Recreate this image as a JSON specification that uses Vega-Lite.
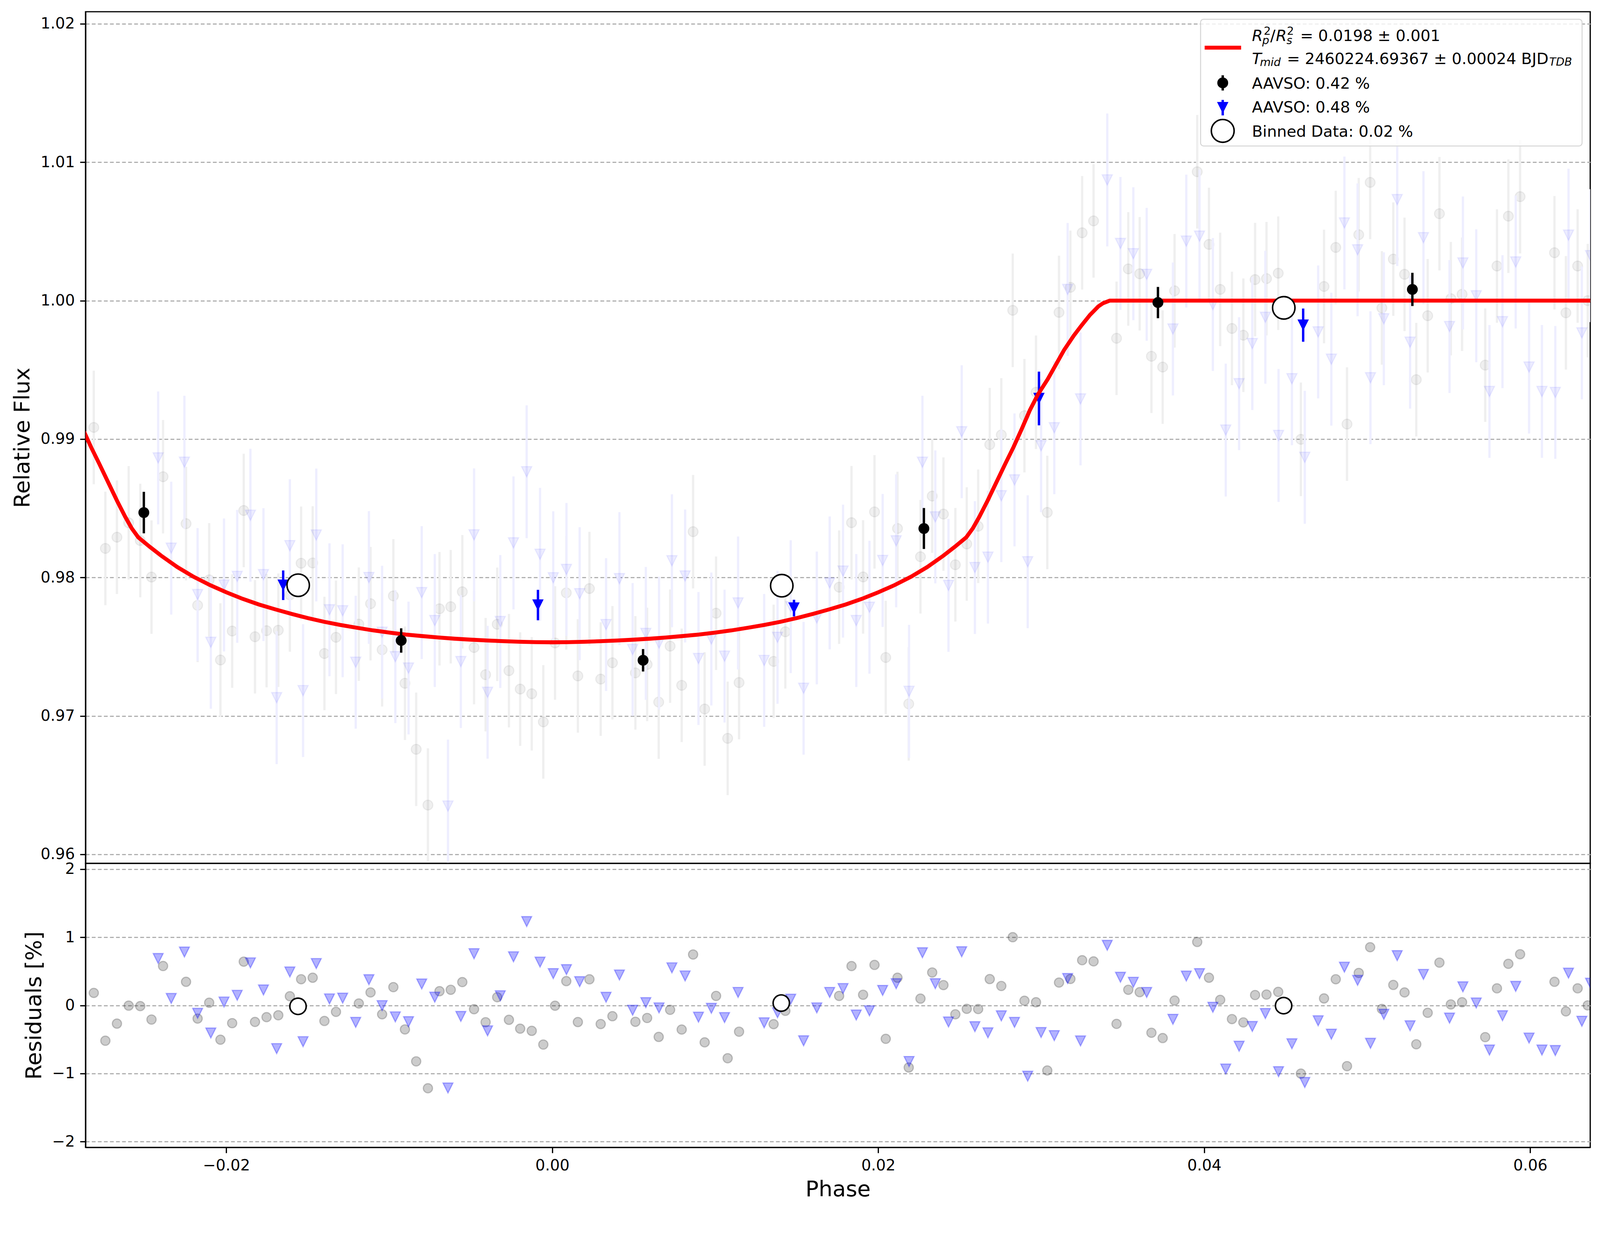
{
  "$schema": "https://vega.github.io/schema/vega-lite/v6.json",
  "background": "white",
  "padding": {"left": 28, "top": 28, "right": 28, "bottom": 20},
  "spacing": 0,
  "bounds": "flush",
  "datasets": {
    "circ": [
      {"phase": -0.0289, "flux": 0.98622, "res": -0.48, "err": 0.0041},
      {"phase": -0.02813, "flux": 0.99084, "res": 0.183, "err": 0.0041},
      {"phase": -0.02742, "flux": 0.98210, "res": -0.519, "err": 0.0041},
      {"phase": -0.02671, "flux": 0.98291, "res": -0.268, "err": 0.0041},
      {"phase": -0.02599, "flux": 0.98395, "res": -0.004, "err": 0.0041},
      {"phase": -0.02528, "flux": 0.98267, "res": -0.011, "err": 0.0041},
      {"phase": -0.02459, "flux": 0.98003, "res": -0.208, "err": 0.0041},
      {"phase": -0.02388, "flux": 0.98728, "res": 0.578, "err": 0.0041},
      {"phase": -0.02247, "flux": 0.98389, "res": 0.346, "err": 0.0041},
      {"phase": -0.02176, "flux": 0.97799, "res": -0.194, "err": 0.0041},
      {"phase": -0.02105, "flux": 0.97983, "res": 0.039, "err": 0.0041},
      {"phase": -0.02036, "flux": 0.97404, "res": -0.504, "err": 0.0041},
      {"phase": -0.01964, "flux": 0.97613, "res": -0.261, "err": 0.0041},
      {"phase": -0.01893, "flux": 0.98484, "res": 0.642, "err": 0.0041},
      {"phase": -0.01824, "flux": 0.97572, "res": -0.243, "err": 0.0041},
      {"phase": -0.01753, "flux": 0.97616, "res": -0.173, "err": 0.0041},
      {"phase": -0.01681, "flux": 0.97619, "res": -0.145, "err": 0.0041},
      {"phase": -0.01610, "flux": 0.97874, "res": 0.134, "err": 0.0041},
      {"phase": -0.01541, "flux": 0.98103, "res": 0.384, "err": 0.0041},
      {"phase": -0.01470, "flux": 0.98105, "res": 0.406, "err": 0.0041},
      {"phase": -0.01398, "flux": 0.97451, "res": -0.229, "err": 0.0041},
      {"phase": -0.01327, "flux": 0.97568, "res": -0.095, "err": 0.0041},
      {"phase": -0.01187, "flux": 0.97663, "res": 0.028, "err": 0.0041},
      {"phase": -0.01115, "flux": 0.97811, "res": 0.190, "err": 0.0041},
      {"phase": -0.01044, "flux": 0.97478, "res": -0.131, "err": 0.0041},
      {"phase": -0.00975, "flux": 0.97867, "res": 0.268, "err": 0.0041},
      {"phase": -0.00904, "flux": 0.97236, "res": -0.353, "err": 0.0041},
      {"phase": -0.00835, "flux": 0.96759, "res": -0.822, "err": 0.0041},
      {"phase": -0.00763, "flux": 0.96356, "res": -1.217, "err": 0.0041},
      {"phase": -0.00692, "flux": 0.97774, "res": 0.208, "err": 0.0041},
      {"phase": -0.00623, "flux": 0.97789, "res": 0.229, "err": 0.0041},
      {"phase": -0.00552, "flux": 0.97897, "res": 0.342, "err": 0.0041},
      {"phase": -0.00480, "flux": 0.97494, "res": -0.056, "err": 0.0041},
      {"phase": -0.00409, "flux": 0.97298, "res": -0.247, "err": 0.0041},
      {"phase": -0.00338, "flux": 0.97662, "res": 0.120, "err": 0.0041},
      {"phase": -0.00266, "flux": 0.97327, "res": -0.212, "err": 0.0041},
      {"phase": -0.00197, "flux": 0.97194, "res": -0.342, "err": 0.0041},
      {"phase": -0.00126, "flux": 0.97160, "res": -0.374, "err": 0.0041},
      {"phase": -0.00055, "flux": 0.96957, "res": -0.575, "err": 0.0041},
      {"phase": 0.00017, "flux": 0.97527, "res": -0.005, "err": 0.0041},
      {"phase": 0.00086, "flux": 0.97889, "res": 0.356, "err": 0.0041},
      {"phase": 0.00157, "flux": 0.97289, "res": -0.245, "err": 0.0041},
      {"phase": 0.00228, "flux": 0.97920, "res": 0.383, "err": 0.0041},
      {"phase": 0.00297, "flux": 0.97266, "res": -0.274, "err": 0.0041},
      {"phase": 0.00369, "flux": 0.97384, "res": -0.159, "err": 0.0041},
      {"phase": 0.00510, "flux": 0.97311, "res": -0.241, "err": 0.0041},
      {"phase": 0.00582, "flux": 0.97372, "res": -0.185, "err": 0.0041},
      {"phase": 0.00653, "flux": 0.97100, "res": -0.463, "err": 0.0041},
      {"phase": 0.00723, "flux": 0.97504, "res": -0.065, "err": 0.0041},
      {"phase": 0.00794, "flux": 0.97221, "res": -0.355, "err": 0.0041},
      {"phase": 0.00864, "flux": 0.98331, "res": 0.747, "err": 0.0041},
      {"phase": 0.00935, "flux": 0.97050, "res": -0.543, "err": 0.0041},
      {"phase": 0.01005, "flux": 0.97742, "res": 0.139, "err": 0.0041},
      {"phase": 0.01076, "flux": 0.96838, "res": -0.776, "err": 0.0041},
      {"phase": 0.01146, "flux": 0.97241, "res": -0.386, "err": 0.0041},
      {"phase": 0.01358, "flux": 0.97394, "res": -0.276, "err": 0.0041},
      {"phase": 0.01430, "flux": 0.97608, "res": -0.080, "err": 0.0041},
      {"phase": 0.01760, "flux": 0.97930, "res": 0.139, "err": 0.0041},
      {"phase": 0.01836, "flux": 0.98396, "res": 0.577, "err": 0.0041},
      {"phase": 0.01907, "flux": 0.98004, "res": 0.156, "err": 0.0041},
      {"phase": 0.01977, "flux": 0.98474, "res": 0.594, "err": 0.0041},
      {"phase": 0.02046, "flux": 0.97422, "res": -0.491, "err": 0.0041},
      {"phase": 0.02118, "flux": 0.98354, "res": 0.406, "err": 0.0041},
      {"phase": 0.02187, "flux": 0.97087, "res": -0.912, "err": 0.0041},
      {"phase": 0.02259, "flux": 0.98150, "res": 0.099, "err": 0.0041},
      {"phase": 0.02331, "flux": 0.98588, "res": 0.483, "err": 0.0041},
      {"phase": 0.02400, "flux": 0.98458, "res": 0.298, "err": 0.0041},
      {"phase": 0.02473, "flux": 0.98092, "res": -0.131, "err": 0.0041},
      {"phase": 0.02543, "flux": 0.98242, "res": -0.051, "err": 0.0041},
      {"phase": 0.02613, "flux": 0.98370, "res": -0.054, "err": 0.0041},
      {"phase": 0.02684, "flux": 0.98960, "res": 0.386, "err": 0.0041},
      {"phase": 0.02755, "flux": 0.99030, "res": 0.285, "err": 0.0041},
      {"phase": 0.02825, "flux": 0.99930, "res": 1.001, "err": 0.0041},
      {"phase": 0.02897, "flux": 0.99169, "res": 0.068, "err": 0.0041},
      {"phase": 0.02968, "flux": 0.99338, "res": 0.046, "err": 0.0041},
      {"phase": 0.03037, "flux": 0.98470, "res": -0.956, "err": 0.0041},
      {"phase": 0.03109, "flux": 0.99915, "res": 0.335, "err": 0.0041},
      {"phase": 0.03179, "flux": 1.00096, "res": 0.388, "err": 0.0041},
      {"phase": 0.03251, "flux": 1.00490, "res": 0.663, "err": 0.0041},
      {"phase": 0.03321, "flux": 1.00576, "res": 0.646, "err": 0.0041},
      {"phase": 0.03462, "flux": 0.99728, "res": -0.272, "err": 0.0041},
      {"phase": 0.03534, "flux": 1.00229, "res": 0.229, "err": 0.0041},
      {"phase": 0.03604, "flux": 1.00194, "res": 0.194, "err": 0.0041},
      {"phase": 0.03676, "flux": 0.99598, "res": -0.402, "err": 0.0041},
      {"phase": 0.03745, "flux": 0.99520, "res": -0.480, "err": 0.0041},
      {"phase": 0.03818, "flux": 1.00071, "res": 0.071, "err": 0.0041},
      {"phase": 0.03957, "flux": 1.00931, "res": 0.931, "err": 0.0041},
      {"phase": 0.04029, "flux": 1.00406, "res": 0.406, "err": 0.0041},
      {"phase": 0.04098, "flux": 1.00081, "res": 0.081, "err": 0.0041},
      {"phase": 0.04170, "flux": 0.99799, "res": -0.201, "err": 0.0041},
      {"phase": 0.04240, "flux": 0.99750, "res": -0.250, "err": 0.0041},
      {"phase": 0.04312, "flux": 1.00152, "res": 0.152, "err": 0.0041},
      {"phase": 0.04382, "flux": 1.00159, "res": 0.159, "err": 0.0041},
      {"phase": 0.04454, "flux": 1.00198, "res": 0.198, "err": 0.0041},
      {"phase": 0.04593, "flux": 0.98998, "res": -1.002, "err": 0.0041},
      {"phase": 0.04735, "flux": 1.00102, "res": 0.102, "err": 0.0041},
      {"phase": 0.04807, "flux": 1.00384, "res": 0.384, "err": 0.0041},
      {"phase": 0.04876, "flux": 0.99108, "res": -0.892, "err": 0.0041},
      {"phase": 0.04948, "flux": 1.00476, "res": 0.476, "err": 0.0041},
      {"phase": 0.05018, "flux": 1.00854, "res": 0.854, "err": 0.0041},
      {"phase": 0.05090, "flux": 0.99947, "res": -0.053, "err": 0.0041},
      {"phase": 0.05160, "flux": 1.00300, "res": 0.300, "err": 0.0041},
      {"phase": 0.05229, "flux": 1.00190, "res": 0.190, "err": 0.0041},
      {"phase": 0.05301, "flux": 0.99429, "res": -0.571, "err": 0.0041},
      {"phase": 0.05371, "flux": 0.99891, "res": -0.109, "err": 0.0041},
      {"phase": 0.05443, "flux": 1.00628, "res": 0.628, "err": 0.0041},
      {"phase": 0.05513, "flux": 1.00014, "res": 0.014, "err": 0.0041},
      {"phase": 0.05582, "flux": 1.00046, "res": 0.046, "err": 0.0041},
      {"phase": 0.05724, "flux": 0.99534, "res": -0.466, "err": 0.0041},
      {"phase": 0.05796, "flux": 1.00250, "res": 0.250, "err": 0.0041},
      {"phase": 0.05866, "flux": 1.00610, "res": 0.610, "err": 0.0041},
      {"phase": 0.05938, "flux": 1.00751, "res": 0.751, "err": 0.0041},
      {"phase": 0.06149, "flux": 1.00346, "res": 0.346, "err": 0.0041},
      {"phase": 0.06219, "flux": 0.99912, "res": -0.088, "err": 0.0041},
      {"phase": 0.06291, "flux": 1.00250, "res": 0.250, "err": 0.0041},
      {"phase": 0.06353, "flux": 1.00000, "res": 0.000, "err": 0.0041}
    ],
    "tri": [
      {"phase": -0.02418, "flux": 0.98864, "res": 0.688, "err": 0.0048},
      {"phase": -0.02338, "flux": 0.98212, "res": 0.102, "err": 0.0048},
      {"phase": -0.02257, "flux": 0.98833, "res": 0.783, "err": 0.0048},
      {"phase": -0.02176, "flux": 0.97877, "res": -0.116, "err": 0.0048},
      {"phase": -0.02095, "flux": 0.97532, "res": -0.406, "err": 0.0048},
      {"phase": -0.02014, "flux": 0.97946, "res": 0.049, "err": 0.0048},
      {"phase": -0.01933, "flux": 0.98008, "res": 0.148, "err": 0.0048},
      {"phase": -0.01852, "flux": 0.98450, "res": 0.624, "err": 0.0048},
      {"phase": -0.01772, "flux": 0.98021, "res": 0.226, "err": 0.0048},
      {"phase": -0.01691, "flux": 0.97132, "res": -0.635, "err": 0.0048},
      {"phase": -0.01610, "flux": 0.98230, "res": 0.490, "err": 0.0048},
      {"phase": -0.01529, "flux": 0.97183, "res": -0.533, "err": 0.0048},
      {"phase": -0.01448, "flux": 0.98307, "res": 0.614, "err": 0.0048},
      {"phase": -0.01367, "flux": 0.97767, "res": 0.095, "err": 0.0048},
      {"phase": -0.01286, "flux": 0.97760, "res": 0.106, "err": 0.0048},
      {"phase": -0.01206, "flux": 0.97388, "res": -0.250, "err": 0.0048},
      {"phase": -0.01125, "flux": 0.98000, "res": 0.377, "err": 0.0048},
      {"phase": -0.01044, "flux": 0.97605, "res": -0.004, "err": 0.0048},
      {"phase": -0.00963, "flux": 0.97428, "res": -0.169, "err": 0.0048},
      {"phase": -0.00882, "flux": 0.97346, "res": -0.240, "err": 0.0048},
      {"phase": -0.00801, "flux": 0.97891, "res": 0.314, "err": 0.0048},
      {"phase": -0.00721, "flux": 0.97689, "res": 0.120, "err": 0.0048},
      {"phase": -0.00640, "flux": 0.96349, "res": -1.213, "err": 0.0048},
      {"phase": -0.00561, "flux": 0.97393, "res": -0.162, "err": 0.0048},
      {"phase": -0.00480, "flux": 0.98308, "res": 0.758, "err": 0.0048},
      {"phase": -0.00397, "flux": 0.97171, "res": -0.374, "err": 0.0048},
      {"phase": -0.00319, "flux": 0.97682, "res": 0.141, "err": 0.0048},
      {"phase": -0.00238, "flux": 0.98250, "res": 0.713, "err": 0.0048},
      {"phase": -0.00157, "flux": 0.98764, "res": 1.230, "err": 0.0048},
      {"phase": -0.00075, "flux": 0.98168, "res": 0.635, "err": 0.0048},
      {"phase": 0.00006, "flux": 0.97998, "res": 0.466, "err": 0.0048},
      {"phase": 0.00087, "flux": 0.98058, "res": 0.525, "err": 0.0048},
      {"phase": 0.00168, "flux": 0.97883, "res": 0.348, "err": 0.0048},
      {"phase": 0.00330, "flux": 0.97660, "res": 0.119, "err": 0.0048},
      {"phase": 0.00412, "flux": 0.97992, "res": 0.446, "err": 0.0048},
      {"phase": 0.00493, "flux": 0.97480, "res": -0.071, "err": 0.0048},
      {"phase": 0.00574, "flux": 0.97596, "res": 0.040, "err": 0.0048},
      {"phase": 0.00655, "flux": 0.97526, "res": -0.037, "err": 0.0048},
      {"phase": 0.00734, "flux": 0.98121, "res": 0.551, "err": 0.0048},
      {"phase": 0.00815, "flux": 0.98011, "res": 0.432, "err": 0.0048},
      {"phase": 0.00897, "flux": 0.97415, "res": -0.173, "err": 0.0048},
      {"phase": 0.00976, "flux": 0.97556, "res": -0.043, "err": 0.0048},
      {"phase": 0.01057, "flux": 0.97432, "res": -0.179, "err": 0.0048},
      {"phase": 0.01140, "flux": 0.97816, "res": 0.190, "err": 0.0048},
      {"phase": 0.01300, "flux": 0.97401, "res": -0.256, "err": 0.0048},
      {"phase": 0.01382, "flux": 0.97568, "res": -0.108, "err": 0.0048},
      {"phase": 0.01463, "flux": 0.97789, "res": 0.091, "err": 0.0048},
      {"phase": 0.01542, "flux": 0.97200, "res": -0.520, "err": 0.0048},
      {"phase": 0.01623, "flux": 0.97708, "res": -0.037, "err": 0.0048},
      {"phase": 0.01702, "flux": 0.97961, "res": 0.190, "err": 0.0048},
      {"phase": 0.01784, "flux": 0.98046, "res": 0.247, "err": 0.0048},
      {"phase": 0.01865, "flux": 0.97689, "res": -0.142, "err": 0.0048},
      {"phase": 0.01946, "flux": 0.97785, "res": -0.080, "err": 0.0048},
      {"phase": 0.02027, "flux": 0.98123, "res": 0.219, "err": 0.0048},
      {"phase": 0.02110, "flux": 0.98265, "res": 0.318, "err": 0.0048},
      {"phase": 0.02189, "flux": 0.97178, "res": -0.824, "err": 0.0048},
      {"phase": 0.02271, "flux": 0.98833, "res": 0.773, "err": 0.0048},
      {"phase": 0.02350, "flux": 0.98438, "res": 0.318, "err": 0.0048},
      {"phase": 0.02431, "flux": 0.97943, "res": -0.244, "err": 0.0048},
      {"phase": 0.02512, "flux": 0.99053, "res": 0.787, "err": 0.0048},
      {"phase": 0.02593, "flux": 0.98072, "res": -0.313, "err": 0.0048},
      {"phase": 0.02673, "flux": 0.98147, "res": -0.403, "err": 0.0048},
      {"phase": 0.02755, "flux": 0.98591, "res": -0.154, "err": 0.0048},
      {"phase": 0.02836, "flux": 0.98705, "res": -0.250, "err": 0.0048},
      {"phase": 0.02917, "flux": 0.98114, "res": -1.040, "err": 0.0048},
      {"phase": 0.02999, "flux": 0.98952, "res": -0.399, "err": 0.0048},
      {"phase": 0.03080, "flux": 0.99082, "res": -0.444, "err": 0.0048},
      {"phase": 0.03162, "flux": 1.00081, "res": 0.395, "err": 0.0048},
      {"phase": 0.03241, "flux": 0.99290, "res": -0.522, "err": 0.0048},
      {"phase": 0.03405, "flux": 1.00872, "res": 0.882, "err": 0.0048},
      {"phase": 0.03486, "flux": 1.00413, "res": 0.413, "err": 0.0048},
      {"phase": 0.03565, "flux": 1.00339, "res": 0.339, "err": 0.0048},
      {"phase": 0.03647, "flux": 1.00190, "res": 0.190, "err": 0.0048},
      {"phase": 0.03808, "flux": 0.99795, "res": -0.205, "err": 0.0048},
      {"phase": 0.03890, "flux": 1.00430, "res": 0.430, "err": 0.0048},
      {"phase": 0.03971, "flux": 1.00466, "res": 0.466, "err": 0.0048},
      {"phase": 0.04053, "flux": 0.99972, "res": -0.028, "err": 0.0048},
      {"phase": 0.04132, "flux": 0.99065, "res": -0.935, "err": 0.0048},
      {"phase": 0.04214, "flux": 0.99400, "res": -0.600, "err": 0.0048},
      {"phase": 0.04295, "flux": 0.99690, "res": -0.310, "err": 0.0048},
      {"phase": 0.04375, "flux": 0.99880, "res": -0.120, "err": 0.0048},
      {"phase": 0.04456, "flux": 0.99026, "res": -0.974, "err": 0.0048},
      {"phase": 0.04538, "flux": 0.99436, "res": -0.564, "err": 0.0048},
      {"phase": 0.04617, "flux": 0.98868, "res": -1.132, "err": 0.0048},
      {"phase": 0.04699, "flux": 0.99774, "res": -0.226, "err": 0.0048},
      {"phase": 0.04780, "flux": 0.99577, "res": -0.423, "err": 0.0048},
      {"phase": 0.04860, "flux": 1.00561, "res": 0.561, "err": 0.0048},
      {"phase": 0.04941, "flux": 1.00367, "res": 0.367, "err": 0.0048},
      {"phase": 0.05020, "flux": 0.99443, "res": -0.557, "err": 0.0048},
      {"phase": 0.05102, "flux": 0.99869, "res": -0.131, "err": 0.0048},
      {"phase": 0.05184, "flux": 1.00730, "res": 0.730, "err": 0.0048},
      {"phase": 0.05263, "flux": 0.99700, "res": -0.300, "err": 0.0048},
      {"phase": 0.05345, "flux": 1.00455, "res": 0.455, "err": 0.0048},
      {"phase": 0.05505, "flux": 0.99813, "res": -0.187, "err": 0.0048},
      {"phase": 0.05587, "flux": 1.00272, "res": 0.272, "err": 0.0048},
      {"phase": 0.05669, "flux": 1.00035, "res": 0.035, "err": 0.0048},
      {"phase": 0.05750, "flux": 0.99344, "res": -0.656, "err": 0.0048},
      {"phase": 0.05830, "flux": 0.99848, "res": -0.152, "err": 0.0048},
      {"phase": 0.05911, "flux": 1.00279, "res": 0.279, "err": 0.0048},
      {"phase": 0.05993, "flux": 0.99520, "res": -0.480, "err": 0.0048},
      {"phase": 0.06072, "flux": 0.99344, "res": -0.656, "err": 0.0048},
      {"phase": 0.06154, "flux": 0.99337, "res": -0.663, "err": 0.0048},
      {"phase": 0.06235, "flux": 1.00473, "res": 0.473, "err": 0.0048},
      {"phase": 0.06317, "flux": 0.99767, "res": -0.233, "err": 0.0048},
      {"phase": 0.06370, "flux": 1.00325, "res": 0.325, "err": 0.0048}
    ],
    "model": [
      {"phase": -0.0290, "flux": 0.99124},
      {"phase": -0.0288, "flux": 0.99072},
      {"phase": -0.0283, "flux": 0.98942},
      {"phase": -0.0278, "flux": 0.98823},
      {"phase": -0.0272, "flux": 0.98676},
      {"phase": -0.0267, "flux": 0.98553},
      {"phase": -0.0262, "flux": 0.98438},
      {"phase": -0.0258, "flux": 0.98355},
      {"phase": -0.0254, "flux": 0.98290},
      {"phase": -0.0247, "flux": 0.98222},
      {"phase": -0.0240, "flux": 0.98158},
      {"phase": -0.0230, "flux": 0.98075},
      {"phase": -0.0220, "flux": 0.98005},
      {"phase": -0.0210, "flux": 0.97945},
      {"phase": -0.0200, "flux": 0.97893},
      {"phase": -0.0190, "flux": 0.97846},
      {"phase": -0.0180, "flux": 0.97805},
      {"phase": -0.0170, "flux": 0.97770},
      {"phase": -0.0160, "flux": 0.97737},
      {"phase": -0.0150, "flux": 0.97707},
      {"phase": -0.0140, "flux": 0.97680},
      {"phase": -0.0130, "flux": 0.97657},
      {"phase": -0.0120, "flux": 0.97637},
      {"phase": -0.0110, "flux": 0.97618},
      {"phase": -0.0100, "flux": 0.97602},
      {"phase": -0.0090, "flux": 0.97588},
      {"phase": -0.0080, "flux": 0.97577},
      {"phase": -0.0070, "flux": 0.97567},
      {"phase": -0.0060, "flux": 0.97558},
      {"phase": -0.0050, "flux": 0.97551},
      {"phase": -0.0040, "flux": 0.97545},
      {"phase": -0.0030, "flux": 0.97540},
      {"phase": -0.0020, "flux": 0.97536},
      {"phase": -0.0010, "flux": 0.97533},
      {"phase": 0.0000, "flux": 0.97532},
      {"phase": 0.0010, "flux": 0.97533},
      {"phase": 0.0020, "flux": 0.97536},
      {"phase": 0.0030, "flux": 0.97540},
      {"phase": 0.0040, "flux": 0.97545},
      {"phase": 0.0050, "flux": 0.97551},
      {"phase": 0.0060, "flux": 0.97558},
      {"phase": 0.0070, "flux": 0.97567},
      {"phase": 0.0080, "flux": 0.97577},
      {"phase": 0.0090, "flux": 0.97588},
      {"phase": 0.0100, "flux": 0.97602},
      {"phase": 0.0110, "flux": 0.97618},
      {"phase": 0.0120, "flux": 0.97637},
      {"phase": 0.0130, "flux": 0.97657},
      {"phase": 0.0140, "flux": 0.97680},
      {"phase": 0.0150, "flux": 0.97707},
      {"phase": 0.0160, "flux": 0.97737},
      {"phase": 0.0170, "flux": 0.97770},
      {"phase": 0.0180, "flux": 0.97805},
      {"phase": 0.0190, "flux": 0.97846},
      {"phase": 0.0200, "flux": 0.97893},
      {"phase": 0.0210, "flux": 0.97945},
      {"phase": 0.0220, "flux": 0.98005},
      {"phase": 0.0230, "flux": 0.98075},
      {"phase": 0.0240, "flux": 0.98158},
      {"phase": 0.0247, "flux": 0.98222},
      {"phase": 0.0254, "flux": 0.98290},
      {"phase": 0.0258, "flux": 0.98355},
      {"phase": 0.0262, "flux": 0.98438},
      {"phase": 0.0267, "flux": 0.98553},
      {"phase": 0.0272, "flux": 0.98676},
      {"phase": 0.0278, "flux": 0.98823},
      {"phase": 0.0283, "flux": 0.98942},
      {"phase": 0.0288, "flux": 0.99072},
      {"phase": 0.0293, "flux": 0.99208},
      {"phase": 0.0298, "flux": 0.99323},
      {"phase": 0.0304, "flux": 0.99433},
      {"phase": 0.0309, "flux": 0.99538},
      {"phase": 0.0314, "flux": 0.99643},
      {"phase": 0.0320, "flux": 0.99748},
      {"phase": 0.0325, "flux": 0.99825},
      {"phase": 0.0330, "flux": 0.99898},
      {"phase": 0.0335, "flux": 0.99958},
      {"phase": 0.0338, "flux": 0.99982},
      {"phase": 0.0342, "flux": 1.00000},
      {"phase": 0.0640, "flux": 1.00000}
    ],
    "black": [
      {"phase": -0.02506, "flux": 0.98469, "err": 0.0015},
      {"phase": -0.00927, "flux": 0.97545, "err": 0.00088},
      {"phase": 0.00557, "flux": 0.97402, "err": 0.00081},
      {"phase": 0.02280, "flux": 0.98354, "err": 0.00148},
      {"phase": 0.03716, "flux": 0.99986, "err": 0.00113},
      {"phase": 0.05277, "flux": 1.00081, "err": 0.0012}
    ],
    "blue": [
      {"phase": -0.01651, "flux": 0.97944, "err": 0.00107},
      {"phase": -0.00088, "flux": 0.97801, "err": 0.0011},
      {"phase": 0.01483, "flux": 0.97779, "err": 0.0006},
      {"phase": 0.02986, "flux": 0.99293, "err": 0.00194},
      {"phase": 0.04607, "flux": 0.99823, "err": 0.0012}
    ],
    "binmain": [
      {"phase": -0.01559, "flux": 0.97944},
      {"phase": 0.01408, "flux": 0.97941},
      {"phase": 0.04488, "flux": 0.99948}
    ],
    "binres": [
      {"phase": -0.0156, "res": -0.014},
      {"phase": 0.01405, "res": 0.034},
      {"phase": 0.04487, "res": -0.004}
    ]
  },
  "vconcat": [
    {
      "width": 3852,
      "height": 2180,
      "encoding": {
        "x": {"field": "phase", "type": "quantitative", "scale": {"domain": [-0.028636, 0.063683], "nice": false, "zero": false}, "axis": null},
        "y": {"field": "flux", "type": "quantitative", "scale": {"domain": [0.95935, 1.02087], "nice": false, "zero": false}, "title": "Relative Flux",
              "axis": {"values": [0.96, 0.97, 0.98, 0.99, 1.0, 1.01, 1.02], "format": ".2f", "titlePadding": 16.5}}
      },
      "layer": [
        {"data": {"name": "circ"}, "mark": {"type": "errorbar", "color": "#efefef", "thickness": 5.8, "clip": true}, "encoding": {"yError": {"field": "err"}}},
        {"data": {"name": "circ"}, "mark": {"type": "point", "shape": "circle", "size": 640, "filled": true, "opacity": 1, "fill": "black", "fillOpacity": 0.06, "stroke": "black", "strokeOpacity": 0.06, "strokeWidth": 2.9, "clip": true}},
        {"data": {"name": "tri"}, "mark": {"type": "errorbar", "color": "#eeeeff", "thickness": 5.8, "clip": true}, "encoding": {"yError": {"field": "err"}}},
        {"data": {"name": "tri"}, "mark": {"type": "point", "shape": "M-1,-1L1,-1L0,1Z", "size": 690, "filled": true, "opacity": 1, "fill": "blue", "fillOpacity": 0.07, "stroke": "blue", "strokeOpacity": 0.07, "strokeWidth": 2.9, "clip": true}},
        {"data": {"name": "blue"}, "mark": {"type": "errorbar", "color": "blue", "thickness": 6.1, "clip": true}, "encoding": {"yError": {"field": "err"}}},
        {"data": {"name": "blue"}, "mark": {"type": "point", "shape": "M-1,-1L1,-1L0,1Z", "size": 852, "filled": true, "opacity": 1, "fill": "blue", "strokeWidth": 0, "clip": true}},
        {"data": {"name": "model"}, "mark": {"type": "line", "color": "red", "strokeWidth": 10.1, "clip": true}, "encoding": {}},
        {"data": {"name": "black"}, "mark": {"type": "errorbar", "color": "black", "thickness": 6.1, "clip": true}, "encoding": {"yError": {"field": "err"}}},
        {"data": {"name": "black"}, "mark": {"type": "point", "shape": "circle", "size": 774, "filled": true, "opacity": 1, "fill": "black", "strokeWidth": 0, "clip": true}},
        {"data": {"name": "binmain"}, "mark": {"type": "point", "shape": "circle", "size": 3294, "filled": true, "opacity": 1, "fill": "white", "stroke": "black", "strokeWidth": 3.9, "clip": true}},
        {"data": {"values": [{"phase": 0.039776, "phase2": 0.063182, "flux": 1.020327, "flux2": 1.01117}]},
         "mark": {"type": "rect", "fill": "white", "fillOpacity": 0.8, "stroke": "#d6d6d6", "strokeWidth": 2.6, "cornerRadius": 7.8},
         "encoding": {"x2": {"field": "phase2"}, "y2": {"field": "flux2"}}},
        {"data": {"values": [{"phase": 0.040026, "phase2": 0.042263, "flux": 1.018275}]},
         "mark": {"type": "rule", "color": "red", "strokeWidth": 10.1},
         "encoding": {"x2": {"field": "phase2"}}},
        {"data": {"values": [{"phase": 0.041135, "flux": 1.015729, "err": 0.00055}]}, "mark": {"type": "errorbar", "color": "black", "thickness": 6.1}, "encoding": {"yError": {"field": "err"}}},
        {"data": {"values": [{"phase": 0.041135, "flux": 1.015729}]}, "mark": {"type": "point", "shape": "circle", "size": 774, "filled": true, "opacity": 1, "fill": "black", "strokeWidth": 0}},
        {"data": {"values": [{"phase": 0.041135, "flux": 1.01394, "err": 0.00056}]}, "mark": {"type": "errorbar", "color": "blue", "thickness": 6.1}, "encoding": {"yError": {"field": "err"}}},
        {"data": {"values": [{"phase": 0.041135, "flux": 1.01394}]}, "mark": {"type": "point", "shape": "M-1,-1L1,-1L0,1Z", "size": 852, "filled": true, "opacity": 1, "fill": "blue", "strokeWidth": 0}},
        {"data": {"values": [{"phase": 0.041135, "flux": 1.01226}]}, "mark": {"type": "point", "shape": "circle", "size": 3407, "filled": true, "opacity": 1, "fill": "white", "stroke": "black", "strokeWidth": 3.9}},
        {"data": {"values": [{"phase": 0.042928, "flux": 1.01875, "t": "R"}]}, "mark": {"type": "text", "align": "left", "baseline": "alphabetic", "fontSize": 39.9, "fontStyle": "italic", "color": "black"}, "encoding": {"text": {"field": "t"}}},
        {"data": {"values": [{"phase": 0.042928, "flux": 1.01875, "t": "2"}]}, "mark": {"type": "text", "align": "left", "baseline": "alphabetic", "fontSize": 28.2, "dx": 30.2, "dy": -16.5, "color": "black"}, "encoding": {"text": {"field": "t"}}},
        {"data": {"values": [{"phase": 0.042928, "flux": 1.01875, "t": "p"}]}, "mark": {"type": "text", "align": "left", "baseline": "alphabetic", "fontSize": 28.2, "fontStyle": "italic", "dx": 26.3, "dy": 8.3, "color": "black"}, "encoding": {"text": {"field": "t"}}},
        {"data": {"values": [{"phase": 0.042928, "flux": 1.01875, "t": "/"}]}, "mark": {"type": "text", "align": "left", "baseline": "alphabetic", "fontSize": 39.9, "dx": 46.7, "color": "black"}, "encoding": {"text": {"field": "t"}}},
        {"data": {"values": [{"phase": 0.042928, "flux": 1.01875, "t": "R"}]}, "mark": {"type": "text", "align": "left", "baseline": "alphabetic", "fontSize": 39.9, "fontStyle": "italic", "dx": 61.3, "color": "black"}, "encoding": {"text": {"field": "t"}}},
        {"data": {"values": [{"phase": 0.042928, "flux": 1.01875, "t": "2"}]}, "mark": {"type": "text", "align": "left", "baseline": "alphabetic", "fontSize": 28.2, "dx": 89.5, "dy": -16.5, "color": "black"}, "encoding": {"text": {"field": "t"}}},
        {"data": {"values": [{"phase": 0.042928, "flux": 1.01875, "t": "s"}]}, "mark": {"type": "text", "align": "left", "baseline": "alphabetic", "fontSize": 28.2, "fontStyle": "italic", "dx": 88.5, "dy": 8.3, "color": "black"}, "encoding": {"text": {"field": "t"}}},
        {"data": {"values": [{"phase": 0.042928, "flux": 1.01875, "t": "= 0.0198 ± 0.001"}]}, "mark": {"type": "text", "align": "left", "baseline": "alphabetic", "fontSize": 39.9, "dx": 123.5, "color": "black"}, "encoding": {"text": {"field": "t"}}},
        {"data": {"values": [{"phase": 0.042928, "flux": 1.017102, "t": "T"}]}, "mark": {"type": "text", "align": "left", "baseline": "alphabetic", "fontSize": 39.9, "fontStyle": "italic", "color": "black"}, "encoding": {"text": {"field": "t"}}},
        {"data": {"values": [{"phase": 0.042928, "flux": 1.017102, "t": "mid"}]}, "mark": {"type": "text", "align": "left", "baseline": "alphabetic", "fontSize": 28.2, "fontStyle": "italic", "dx": 20.4, "dy": 5.8, "color": "black"}, "encoding": {"text": {"field": "t"}}},
        {"data": {"values": [{"phase": 0.042928, "flux": 1.017102, "t": "= 2460224.69367 ± 0.00024 BJD"}]}, "mark": {"type": "text", "align": "left", "baseline": "alphabetic", "fontSize": 39.9, "dx": 89.5, "color": "black"}, "encoding": {"text": {"field": "t"}}},
        {"data": {"values": [{"phase": 0.042928, "flux": 1.017102, "t": "TDB"}]}, "mark": {"type": "text", "align": "left", "baseline": "alphabetic", "fontSize": 28.2, "fontStyle": "italic", "dx": 761, "dy": 4.9, "color": "black"}, "encoding": {"text": {"field": "t"}}},
        {"data": {"values": [
            {"phase": 0.042928, "flux": 1.015317, "t": "AAVSO: 0.42 %"},
            {"phase": 0.042928, "flux": 1.013579, "t": "AAVSO: 0.48 %"},
            {"phase": 0.042928, "flux": 1.01184, "t": "Binned Data: 0.02 %"}]},
         "mark": {"type": "text", "align": "left", "baseline": "alphabetic", "fontSize": 39.9, "color": "black"}, "encoding": {"text": {"field": "t"}}}
      ]
    },
    {
      "width": 3852,
      "height": 727,
      "encoding": {
        "x": {"field": "phase", "type": "quantitative", "scale": {"domain": [-0.028636, 0.063683], "nice": false, "zero": false}, "title": "Phase",
              "axis": {"values": [-0.02, 0, 0.02, 0.04, 0.06], "format": ".2f", "titlePadding": 14.6}},
        "y": {"field": "res", "type": "quantitative", "scale": {"domain": [-2.085, 2.085], "nice": false, "zero": false}, "title": "Residuals [%]",
              "axis": {"values": [-2, -1, 0, 1, 2], "format": "d", "titlePadding": 16.5}}
      },
      "layer": [
        {"data": {"name": "circ"}, "mark": {"type": "point", "shape": "circle", "size": 568, "filled": true, "opacity": 1, "fill": "black", "fillOpacity": 0.2, "stroke": "black", "strokeOpacity": 0.2, "strokeWidth": 2.9, "clip": true}},
        {"data": {"name": "tri"}, "mark": {"type": "point", "shape": "M-1,-1L1,-1L0,1Z", "size": 655, "filled": true, "opacity": 1, "fill": "blue", "fillOpacity": 0.3, "stroke": "blue", "strokeOpacity": 0.3, "strokeWidth": 2.9, "clip": true}},
        {"data": {"name": "binres"}, "mark": {"type": "point", "shape": "circle", "size": 1750, "filled": true, "opacity": 1, "fill": "white", "stroke": "black", "strokeWidth": 3.9, "clip": true}}
      ]
    }
  ],
  "config": {
    "font": "DejaVu Sans",
    "view": {"stroke": "black", "strokeWidth": 3.2},
    "axis": {
      "domainColor": "black", "domainWidth": 3.2,
      "tickColor": "black", "tickWidth": 3.2, "tickSize": 14.2,
      "labelFont": "DejaVu Sans", "labelFontSize": 39.4, "labelColor": "black", "labelPadding": 13.6,
      "titleFont": "DejaVu Sans", "titleFontSize": 55.9, "titleFontWeight": "normal", "titleColor": "black",
      "gridColor": "#b0b0b0", "gridDash": [9.7, 5.8], "gridWidth": 2.9
    },
    "axisX": {"grid": false},
    "axisY": {"grid": true}
  }
}
